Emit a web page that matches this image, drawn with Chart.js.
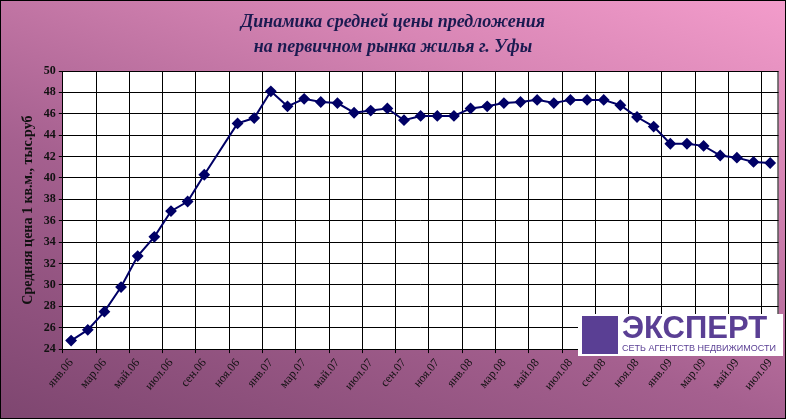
<!DOCTYPE html>
<html><head><meta charset="utf-8">
<script src="https://cdn.jsdelivr.net/npm/chart.js@4"></script>
<style>
html,body{margin:0;padding:0;}
#wrap{position:relative;width:784px;height:417px;border:1px solid #000;background:linear-gradient(20deg,#7e4670 0%,#a5608f 40%,#d785b4 75%,#f39ccb 100%);}
#title{position:absolute;left:0;width:784px;top:8px;text-align:center;font:italic bold 18px "Liberation Serif";color:#1a1a50;line-height:25px;}
#logo{position:absolute;left:577px;top:313px;width:205px;height:42px;background:#fff;}
#logo .ic{position:absolute;left:4px;top:2px;width:36px;height:38px;background:#5a3f94;}
#logo .big{position:absolute;left:44px;top:-4px;font:bold 31px "Liberation Sans";color:#5a3f94;}
#logo .small{position:absolute;left:44px;top:29px;font:9px "Liberation Sans";color:#5a3f94;white-space:nowrap;}
</style></head><body>
<div id="wrap"><canvas id="c" width="784" height="417"></canvas>
<div id="title">Динамика средней цены предложения<br>на первичном рынка жилья г. Уфы</div>
<div id="logo"><div class="ic"></div><div class="big">ЭКСПЕРТ</div><div class="small">СЕТЬ АГЕНТСТВ НЕДВИЖИМОСТИ</div></div>
</div>
<script>
const months=['янв','фев','мар','апр','май','июн','июл','авг','сен','окт','ноя','дек'];
const labels=[];
for(let y=6;y<=9;y++)for(let m=0;m<12;m++){if(y===9&&m>6)break;labels.push(months[m]+'.0'+y);}
const prices=[24.8,25.8,27.5,29.8,32.7,34.5,36.9,37.8,40.3,null,45.1,45.6,
48.1,46.7,47.4,47.1,47.0,46.1,46.3,46.5,45.4,45.8,45.8,45.8,
46.5,46.7,47.0,47.1,47.3,47.0,47.3,47.3,47.3,46.8,45.7,44.8,
43.2,43.2,43.0,42.1,41.9,41.5,41.4];
const yMin=24,yMax=50,yStep=2;
new Chart(document.getElementById('c'),{
type:'line',
data:{labels:labels,datasets:[{data:prices,borderColor:'#000066',backgroundColor:'#000066',borderWidth:2,
pointStyle:'rectRot',pointRadius:4.5,pointHoverRadius:4.5,spanGaps:true,tension:0}]},
options:{responsive:false,animation:false,
layout:{padding:{left:15,right:6,top:70,bottom:22}},
plugins:{legend:{display:false},tooltip:{enabled:false}},
scales:{
x:{offset:true,grid:{color:c=>c.index%2===0?'#000':'rgba(0,0,0,0)',offset:true,drawTicks:true,tickLength:4,lineWidth:1},border:{color:'#000'},
ticks:{autoSkip:false,maxRotation:50,minRotation:50,color:'#111',font:{family:'Liberation Serif',size:12},
callback:(v,i)=>i%2===0?labels[i]:''}},
y:{min:yMin,max:yMax,ticks:{stepSize:yStep,color:'#111',font:{family:'Liberation Serif',size:12,weight:'bold'}},
grid:{color:'#000',tickLength:4},border:{color:'#000'},
title:{display:true,text:'Средняя цена 1 кв.м., тыс.руб',color:'#111',font:{family:'Liberation Serif',size:14,weight:'bold'}}}
}},
plugins:[{id:'bg',beforeDraw(ch){const a=ch.chartArea,c=ch.ctx;c.save();c.fillStyle='#fff';c.fillRect(a.left,a.top,a.right-a.left,a.bottom-a.top);c.restore();},
beforeDatasetsDraw(ch){const a=ch.chartArea,c=ch.ctx;c.save();c.strokeStyle='#000';c.lineWidth=1;c.beginPath();c.moveTo(a.right-0.5,a.top);c.lineTo(a.right-0.5,a.bottom);c.stroke();c.restore();}}]
});
</script></body></html>
